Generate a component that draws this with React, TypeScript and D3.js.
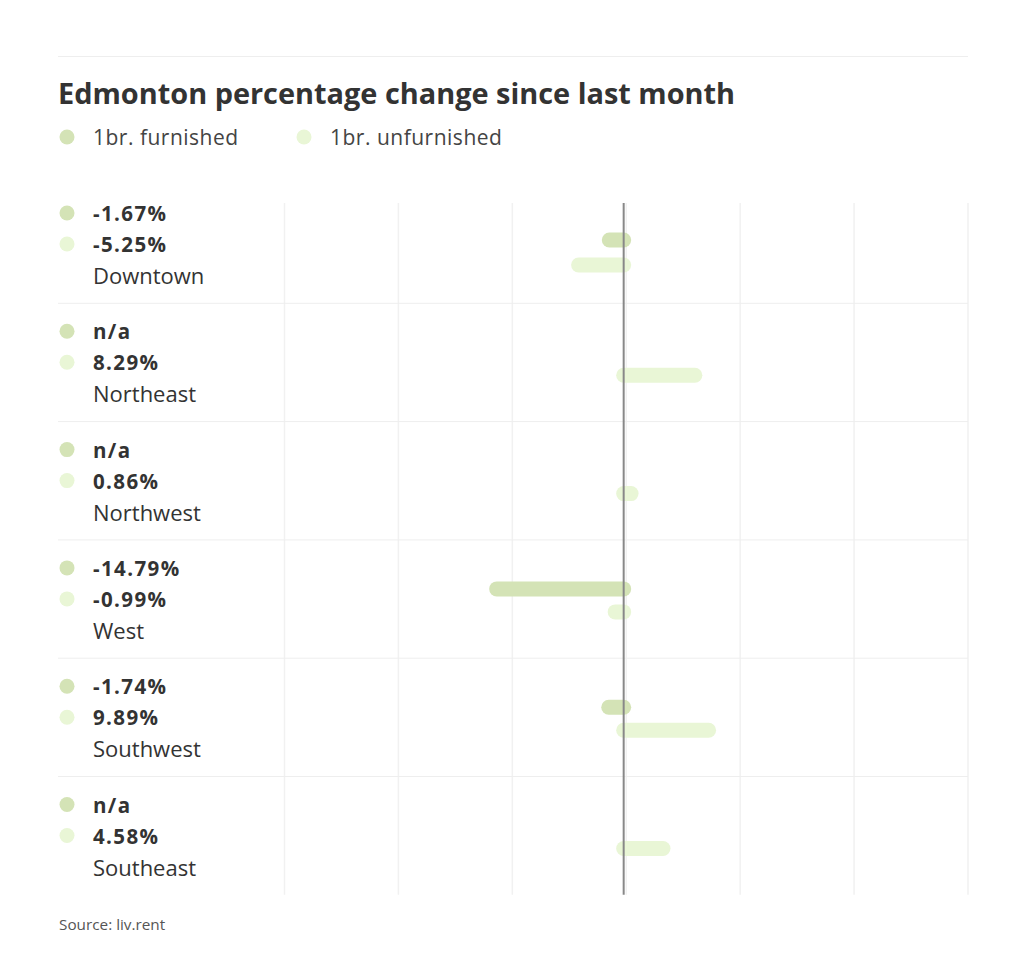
import * as React from 'react'
import { scaleLinear, range } from 'd3'

const regions = ['Downtown', 'Northeast', 'Northwest', 'West', 'Southwest', 'Southeast']
const furnished: (number | null)[] = [-1.67, null, null, -14.79, -1.74, null]
const unfurnished: (number | null)[] = [-5.25, 8.29, 0.86, -0.99, 9.89, 4.58]
const seriesNames = ['1br. furnished', '1br. unfurnished']
const colors = ['#d4e3b6', '#e9f6d6']

const W = 1024
const H = 957
const left = 58
const right = 968
const plotLeft = 284.5
const rowTop = 185
const rowH = 118.3
const FONT = '"Open Sans", "Noto Sans", sans-serif'

const fmt = (v: number | null) => (v == null ? 'n/a' : `${v.toFixed(2)}%`)

export default function App () {
    const x = scaleLinear().domain([-39.5, 40.1]).range([plotLeft, right])
    const [lo, hi] = x.domain()
    const grid = range(7).map(i => lo + (i * (hi - lo)) / 6)
    const y = (i: number) => rowTop + i * rowH
    const gridTop = 203
    const gridBottom = y(regions.length)

    const bar = (v: number | null, cy: number, color: string, key: string) => {
        if (v == null) return null
        return <line key={key} x1={x(0)} x2={x(v)} y1={cy} y2={cy}
            stroke={color} strokeWidth={15} strokeLinecap='round' />
    }

    return <svg width={W} height={H} style={{ position: 'absolute', left: 0, top: 0, background: '#fff' }}
        fontFamily={FONT}>
        <line x1={left} x2={right} y1={56.5} y2={56.5} stroke='#eeeeee' />
        <text x={left} y={104} fontSize={28.9} fontWeight={700} fill='#333'>
            Edmonton percentage change since last month
        </text>
        {seriesNames.map((s, i) => <g key={s} transform={`translate(${i === 0 ? 67 : 304}, 137)`}>
            <circle r={7.5} fill={colors[i]} />
            <text x={26} y={7.5} fontSize={21} fill='#444' letterSpacing={0.5}>{s}</text>
        </g>)}

        {grid.map((g, i) => <line key={i} x1={x(g)} x2={x(g)} y1={gridTop} y2={gridBottom}
            stroke='#f1f1f1' strokeWidth={1.5} />)}

        {regions.map((r, i) => {
            const top = y(i)
            return <g key={r}>
                {i < regions.length - 1 &&
                    <line x1={left} x2={right} y1={top + rowH} y2={top + rowH} stroke='#eeeeee' />}
                <circle cx={67} cy={top + 28} r={7.5} fill={colors[0]} />
                <circle cx={67} cy={top + 59} r={7.5} fill={colors[1]} />
                <text x={93} y={top + 36} fontSize={20.5} fontWeight={700} fill='#333' letterSpacing={1.4}>
                    {fmt(furnished[i])}
                </text>
                <text x={93} y={top + 67} fontSize={20.5} fontWeight={700} fill='#333' letterSpacing={1.4}>
                    {fmt(unfurnished[i])}
                </text>
                <text x={93} y={top + 99} fontSize={22} fill='#333'>{r}</text>
                {bar(furnished[i], top + (i === 0 ? 55 : 49), colors[0], 'f')}
                {bar(unfurnished[i], top + (i === 0 ? 80 : 72), colors[1], 'u')}
            </g>
        })}

        <line x1={x(0)} x2={x(0)} y1={gridTop} y2={gridBottom} stroke='#888' strokeWidth={2} />

        <text x={59} y={930} fontSize={15.3} fill='#555'>Source: liv.rent</text>
    </svg>
}
